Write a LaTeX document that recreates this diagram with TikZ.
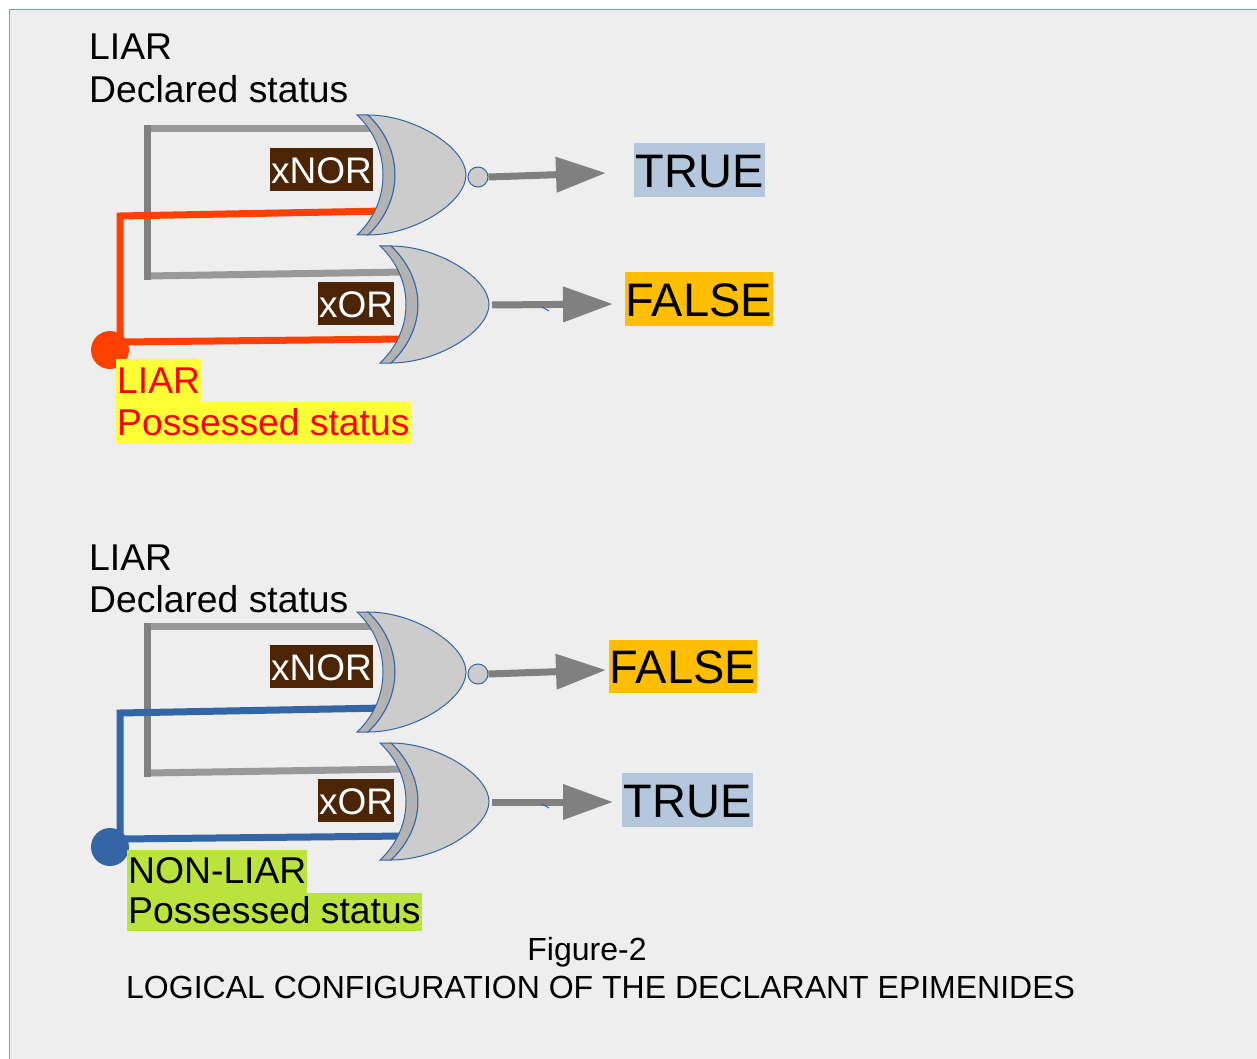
\documentclass[tikz,border=0pt]{standalone}
\usepackage{fontspec}
\setmainfont{Liberation Sans}
\usetikzlibrary{arrows.meta}
\definecolor{panelc}{HTML}{EEEEEE}
\definecolor{frameblue}{HTML}{729FCF}
\definecolor{gline}{HTML}{3465A4}
\definecolor{bandc}{HTML}{B3B3B3}
\definecolor{bodyc}{HTML}{CCCCCC}
\definecolor{wgray}{HTML}{999999}
\definecolor{wgrayd}{HTML}{808080}
\definecolor{aorange}{HTML}{FF4000}
\definecolor{ablue}{HTML}{3465A4}
\definecolor{tagbrown}{HTML}{4B2506}
\definecolor{truec}{HTML}{B4C7DC}
\definecolor{falsec}{HTML}{FFBF00}
\definecolor{hlyellow}{HTML}{FFFF38}
\definecolor{hlgreen}{HTML}{BBE33D}
\newcommand\xgate[3]{%
 \begin{scope}[shift={(#1,#2)}]
  \filldraw[fill=bandc, draw=gline, line width=1pt]
   (0,{-#3}) .. controls ({0.28*#3},{-0.74*#3}) and (26,{-0.38*#3}) .. (26,0)
   .. controls (26,{0.38*#3}) and ({0.28*#3},{0.74*#3}) .. (0,{#3}) -- (11,{#3})
   .. controls ({11+0.28*#3},{0.74*#3}) and (38,{0.38*#3}) .. (38,0)
   .. controls (38,{-0.38*#3}) and ({11+0.28*#3},{-0.74*#3}) .. (11,{-#3}) -- cycle;
  \filldraw[fill=bodyc, draw=gline, line width=1pt]
   (11,{-#3}) .. controls (58,{-#3}) and (109,{-0.45*#3}) .. (109,0)
   .. controls (109,{0.45*#3}) and (58,{#3}) .. (11,{#3})
   .. controls ({11+0.28*#3},{0.74*#3}) and (38,{0.38*#3}) .. (38,0)
   .. controls (38,{-0.38*#3}) and ({11+0.28*#3},{-0.74*#3}) .. (11,{-#3}) -- cycle;
 \end{scope}}
\begin{document}
\begin{tikzpicture}[x=1pt, y=-1pt,
  every node/.style={inner sep=0pt},
  lbl/.style={font=\fontsize{37.3}{43}\selectfont, anchor=base west},
  captext/.style={font=\fontsize{32}{38}\selectfont},
  tagbox/.style={fill=tagbrown, text=white, font=\fontsize{37}{43}\selectfont,
     inner xsep=1pt, text height=35pt, text depth=8pt, anchor=north west},
  resbox/.style={font=\fontsize{47}{54}\selectfont, anchor=north west},
  hl/.style={font=\fontsize{37.3}{43}\selectfont, inner xsep=1pt, anchor=north west},
  graywire/.style={draw=wgray, line width=7pt},
  graywired/.style={draw=wgrayd, line width=7pt},
  orwire/.style={draw=aorange, line width=7pt, line join=miter},
  bluewire/.style={draw=ablue, line width=7pt, line join=miter},
  bubble/.style={circle, fill=bodyc, draw=gline, line width=1pt, minimum size=20pt},
  outarrow/.style={draw=wgrayd, line width=7pt, -{Triangle[length=50pt,width=34pt]}},
  tickline/.style={draw=gline, line width=1pt}]
\useasboundingbox (0,0) rectangle (1257,1059);
\fill[white] (0,0) rectangle (1257,1059);
\fill[panelc] (9.5,9.5) rectangle (1262,1064);
\draw[frameblue, line width=1pt] (9.5,1064) -- (9.5,9.5) -- (1262,9.5);

% ===== upper configuration =====
\node[lbl] (d1a) at (89,60) {LIAR};
\node[lbl] (d1b) at (89,103) {Declared status};
% wires
\draw[graywire] (147,129) -- (380,129);
\draw[graywire] (147,276) -- (405,272);
\draw[graywired] (147,125.5) -- (147,279.5);
\draw[orwire] (120,346) -- (120,216) -- (385,211);
\draw[orwire] (120,342) -- (405,339);
\node[circle, fill=aorange, minimum size=38pt] (dot1) at (110,350) {};
% gates
\xgate{357}{175}{60}
\xgate{380}{304.5}{58.5}
\node[bubble] (bub1) at (478,177) {};
\coordinate (g1out) at (492,305);
\coordinate (t1) at (606,173);
\coordinate (t2) at (613,304);
\draw[outarrow] (bub1.east) -- (t1);
\draw[outarrow] (g1out) -- (t2);
\draw[tickline] (542,307) -- (549,311);
\node[tagbox] (n1) at (270,148) {xNOR};
\node[tagbox] (x1) at (318,282) {xOR};
\node[resbox, fill=truec, inner xsep=1.5pt, text height=44pt, text depth=10pt] (r1) at (634,143) {TRUE};
\node[resbox, fill=falsec, inner xsep=0.5pt, text height=44pt, text depth=10pt] (r2) at (625,272) {FALSE};
\node[hl, fill=hlyellow, text=red, text height=34pt, text depth=9pt] (p1a) at (116,359) {LIAR};
\node[hl, fill=hlyellow, text=red, text height=33pt, text depth=9pt] (p1b) at (116,402) {Possessed status};

% ===== lower configuration =====
\node[lbl] (d2a) at (89,570) {LIAR};
\node[lbl] (d2b) at (89,612) {Declared status};
\draw[graywire] (147,626) -- (380,626);
\draw[graywire] (147,773) -- (405,769);
\draw[graywired] (147,622.5) -- (147,776.5);
\draw[bluewire] (120,843) -- (120,713) -- (385,708);
\draw[bluewire] (120,839) -- (405,836);
\node[circle, fill=ablue, minimum size=38pt] (dot2) at (110,847) {};
\xgate{357}{672}{60}
\xgate{380}{801.5}{58.5}
\node[bubble] (bub2) at (478,674) {};
\coordinate (g2out) at (492,802);
\coordinate (t3) at (606,670);
\coordinate (t4) at (613,802);
\draw[outarrow] (bub2.east) -- (t3);
\draw[outarrow] (g2out) -- (t4);
\draw[tickline] (542,804) -- (549,808);
\node[tagbox] (n2) at (270,645) {xNOR};
\node[tagbox] (x2) at (318,779) {xOR};
\node[resbox, fill=falsec, inner xsep=0.5pt, text height=43pt, text depth=10pt] (r3) at (609,640) {FALSE};
\node[resbox, fill=truec, inner xsep=1.5pt, text height=44pt, text depth=10pt] (r4) at (622,773) {TRUE};
\node[hl, fill=hlgreen, text=black, text height=33pt, text depth=10pt] (p2a) at (127,850) {NON-LIAR};
\node[hl, fill=hlgreen, text=black, text height=30pt, text depth=8pt] (p2b) at (127,893) {Possessed status};

% ===== caption =====
\node[captext, anchor=base] (c1) at (587,960) {Figure-2};
\node[captext, anchor=base west] (c2) at (126,998) {LOGICAL CONFIGURATION OF THE DECLARANT EPIMENIDES};
\end{tikzpicture}
\end{document}
